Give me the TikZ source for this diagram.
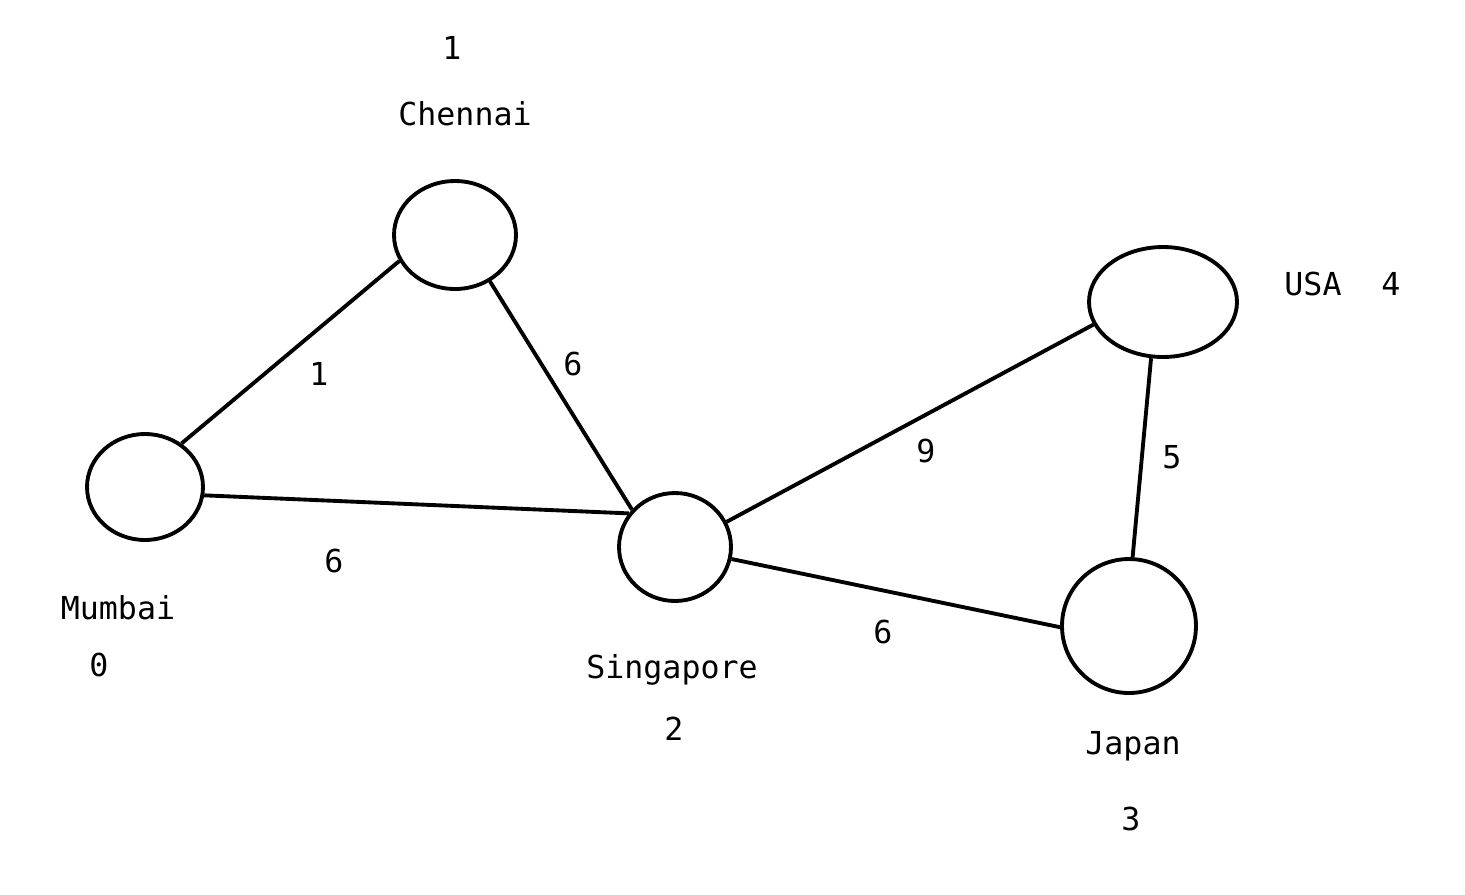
\documentclass[tikz,border=0pt]{standalone}
\usepackage{fontspec}
\setmonofont{DejaVu Sans Mono}
\usepackage{tikz}
\usetikzlibrary{shapes.geometric}

\begin{document}
\begin{tikzpicture}[
  x=0.02cm, y=-0.02cm,
  city/.style={
    draw=black, ellipse, line width=2.2pt, inner sep=0pt
  },
  road/.style={draw=black, line width=2.2pt},
  lbl/.style={font=\fontsize{18}{20}\selectfont\ttfamily, text=black}
]
  \useasboundingbox (0,0) rectangle (1465,894);
  % cities
  \node[city, minimum width=2.44cm, minimum height=2.16cm] (chennai) at (455,235) {};
  \node[city, minimum width=2.32cm, minimum height=2.12cm] (mumbai) at (145,487) {};
  \node[city, minimum width=2.24cm, minimum height=2.16cm] (singapore) at (675,547) {};
  \node[city, minimum width=2.96cm, minimum height=2.20cm] (usa) at (1163,302) {};
  \node[city, minimum width=2.68cm, minimum height=2.68cm] (japan) at (1129,626) {};
  % names and indices
  \node[lbl] (n1) at (452,48) {1};
  \node[lbl] (tchennai) at (465,114) {Chennai};
  \node[lbl] (tusa) at (1313,284) {USA};
  \node[lbl] (n4) at (1391,284) {4};
  \node[lbl] (tmumbai) at (118,608) {Mumbai};
  \node[lbl] (n0) at (99,665) {0};
  \node[lbl] (tsingapore) at (672,670) {Singapore};
  \node[lbl] (n2) at (674,729) {2};
  \node[lbl] (tjapan) at (1133,746) {Japan};
  \node[lbl] (n3) at (1131,819) {3};
  % roads
  \draw[road] (mumbai.50) -- (chennai.205);
  \draw[road] (chennai.-53) -- (singapore.139);
  \draw[road] (mumbai.-8) -- (singapore.144);
  \draw[road] (singapore.26) -- (usa.198);
  \draw[road] (usa.-102) -- (japan.87);
  \draw[road] (singapore.-12) -- (japan.181);
  % weights
  \node[lbl] (w01) at (319,374) {1};
  \node[lbl] (w12) at (573,364) {6};
  \node[lbl] (w02) at (334,561) {6};
  \node[lbl] (w24) at (926,451) {9};
  \node[lbl] (w34) at (1172,457) {5};
  \node[lbl] (w23) at (883,632) {6};
\end{tikzpicture}
\end{document}
